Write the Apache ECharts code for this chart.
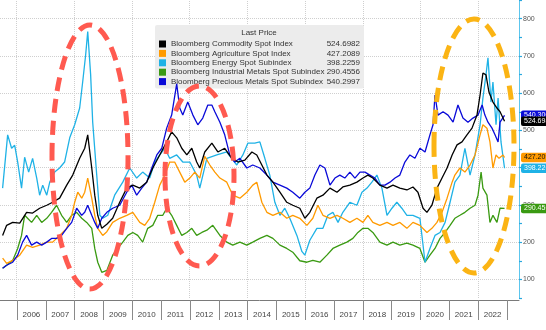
<!DOCTYPE html>
<html>
<head>
<meta charset="utf-8">
<script src="https://cdn.jsdelivr.net/npm/echarts@6/dist/echarts.min.js"></script>
<style>
  html, body { margin: 0; padding: 0; background: #ffffff; }
  #chart { width: 546px; height: 330px; }
</style>
</head>
<body>
<div id="chart"></div>
<script>
// Bloomberg spot indices, mid-2005 to late 2022
const years = ['2006','2007','2008','2009','2010','2011','2012','2013','2014','2015','2016','2017','2018','2019','2020','2021','2022'];
// vertical guide lines every second year
const gridYears = ['2006','2008','2010','2012','2014','2016','2018','2020','2022'];

const names = [
  'Bloomberg Commodity Spot Index',
  'Bloomberg Agriculture Spot Index',
  'Bloomberg Energy Spot Subindex',
  'Bloomberg Industrial Metals Spot Subindex',
  'Bloomberg Precious Metals Spot Subindex'
];

const commodity = [
['2005-07-06',218],['2005-08-26',245],['2005-11-11',253],['2006-02-08',251],['2006-05-06',280],['2006-07-21',278],['2006-10-18',291],['2007-01-16',299],['2007-04-01',307],['2007-06-28',318],['2007-09-26',353],['2007-12-11',380],['2008-03-08',425],['2008-05-11',452],['2008-06-18',488],['2008-08-08',399],['2008-09-15',326],['2008-10-23',272],['2008-12-13',237],['2009-02-15',248],['2009-04-30',264],['2009-07-28',307],['2009-10-25',345],['2010-01-10',353],['2010-04-08',345],['2010-07-05',361],['2010-09-20',399],['2010-12-17',434],['2011-03-15',469],['2011-05-17',496],['2011-07-20',480],['2011-09-22',452],['2011-11-25',434],['2012-01-27',452],['2012-03-29',415],['2012-05-07',399],['2012-07-09',442],['2012-10-07',466],['2012-12-22',442],['2013-03-19',452],['2013-06-17',425],['2013-09-02',415],['2013-11-29',420],['2014-02-26',442],['2014-04-29',434],['2014-07-02',407],['2014-09-04',380],['2014-11-19',361],['2015-02-16',334],['2015-05-14',307],['2015-07-29',299],['2015-10-26',291],['2015-12-29',264],['2016-03-01',280],['2016-05-29',318],['2016-08-14',326],['2016-11-11',345],['2017-02-08',334],['2017-04-23',348],['2017-07-21',353],['2017-10-18',361],['2018-01-03',372],['2018-03-06',380],['2018-05-08',372],['2018-08-05',353],['2018-11-03',345],['2019-01-18',353],['2019-04-15',345],['2019-07-13',340],['2019-09-28',348],['2019-11-30',334],['2020-02-03',291],['2020-03-23',280],['2020-05-25',299],['2020-07-28',345],['2020-09-30',372],['2020-12-03',399],['2021-02-05',434],['2021-04-08',461],['2021-06-10',469],['2021-08-12',488],['2021-10-15',506],['2021-12-17',541],['2022-01-25',595],['2022-03-02',654],['2022-04-10',649],['2022-05-17',603],['2022-07-07',576],['2022-08-27',560],['2022-10-05',550],['2022-12-01',524.6982]
];

const agriculture = [
['2005-07-06',157],['2005-08-26',143],['2005-11-11',151],['2006-02-08',165],['2006-05-06',192],['2006-07-21',186],['2006-10-18',192],['2007-01-16',200],['2007-04-01',200],['2007-06-28',218],['2007-09-26',237],['2007-11-28',272],['2008-01-05',307],['2008-02-13',334],['2008-04-03',318],['2008-05-11',334],['2008-06-18',372],['2008-08-08',318],['2008-09-15',272],['2008-10-23',237],['2008-12-25',218],['2009-02-15',228],['2009-04-30',253],['2009-07-28',264],['2009-10-25',272],['2010-01-10',280],['2010-04-08',253],['2010-06-10',245],['2010-08-12',264],['2010-10-15',307],['2010-12-17',353],['2011-02-20',380],['2011-04-22',415],['2011-06-24',415],['2011-08-27',388],['2011-10-30',361],['2012-01-02',372],['2012-03-05',388],['2012-05-07',372],['2012-07-09',430],['2012-09-12',407],['2012-11-14',388],['2013-01-17',372],['2013-04-14',361],['2013-06-29',326],['2013-09-27',318],['2013-12-24',334],['2014-03-09',353],['2014-04-29',361],['2014-07-02',307],['2014-09-04',280],['2014-11-19',272],['2015-02-16',280],['2015-05-14',264],['2015-07-29',272],['2015-10-26',264],['2016-01-24',245],['2016-04-08',264],['2016-06-11',299],['2016-08-14',272],['2016-11-11',264],['2017-02-08',272],['2017-04-23',264],['2017-07-21',253],['2017-10-18',264],['2018-01-03',253],['2018-03-06',272],['2018-05-08',253],['2018-08-05',245],['2018-11-03',253],['2019-01-18',245],['2019-04-15',253],['2019-07-13',237],['2019-09-28',253],['2019-12-25',245],['2020-03-23',226],['2020-05-25',237],['2020-07-28',253],['2020-09-30',280],['2020-12-03',318],['2021-02-05',361],['2021-03-12',380],['2021-05-15',399],['2021-07-17',388],['2021-09-20',407],['2021-11-22',434],['2022-01-25',488],['2022-03-02',515],['2022-04-22',506],['2022-05-30',469],['2022-07-07',399],['2022-08-15',434],['2022-09-22',425],['2022-11-12',434],['2022-12-01',427.2089]
];

const energy = [
['2005-07-06',345],['2005-09-08',488],['2005-10-28',452],['2005-12-06',460],['2006-01-13',415],['2006-03-03',345],['2006-04-11',428],['2006-06-01',388],['2006-07-21',425],['2006-09-11',372],['2006-10-18',326],['2006-11-26',353],['2007-01-16',326],['2007-02-23',361],['2007-04-26',388],['2007-06-28',399],['2007-08-30',415],['2007-11-03',480],['2008-01-05',515],['2008-03-08',560],['2008-04-15',630],['2008-05-23',703],['2008-06-18',765],['2008-07-25',649],['2008-08-20',522],['2008-10-10',380],['2008-11-18',272],['2008-12-25',264],['2009-02-27',272],['2009-05-25',326],['2009-09-05',361],['2009-12-02',399],['2010-02-28',372],['2010-05-15',388],['2010-08-12',372],['2010-10-15',415],['2010-12-17',434],['2011-02-20',452],['2011-04-22',425],['2011-07-20',434],['2011-10-05',415],['2012-01-02',415],['2012-03-29',380],['2012-05-07',345],['2012-08-05',425],['2012-12-09',434],['2013-04-14',442],['2013-08-19',407],['2013-11-04',434],['2014-01-07',466],['2014-04-04',466],['2014-06-07',469],['2014-08-09',425],['2014-10-11',380],['2014-12-14',307],['2015-02-16',272],['2015-04-19',291],['2015-06-21',264],['2015-09-19',218],['2015-11-21',175],['2015-12-29',165],['2016-03-01',205],['2016-05-29',237],['2016-08-14',237],['2016-10-16',272],['2016-12-18',280],['2017-02-21',253],['2017-04-23',280],['2017-07-21',307],['2017-10-18',299],['2017-12-21',334],['2018-02-23',345],['2018-04-26',361],['2018-06-28',380],['2018-08-31',345],['2018-11-03',272],['2019-01-05',291],['2019-03-08',307],['2019-05-10',291],['2019-07-13',272],['2019-09-28',272],['2019-12-25',264],['2020-02-28',146],['2020-04-30',183],['2020-07-03',218],['2020-09-05',226],['2020-11-08',253],['2021-01-10',307],['2021-03-12',361],['2021-05-15',380],['2021-07-17',452],['2021-09-20',380],['2021-11-22',434],['2022-01-25',515],['2022-03-02',587],['2022-04-10',649],['2022-05-05',695],['2022-06-12',576],['2022-07-07',630],['2022-08-15',515],['2022-09-10',587],['2022-10-17',469],['2022-12-01',398.2259]
];

const metals = [
['2005-07-06',130],['2005-08-26',138],['2005-11-11',151],['2006-01-13',183],['2006-03-03',218],['2006-04-11',272],['2006-05-18',264],['2006-07-08',253],['2006-09-11',272],['2006-11-13',253],['2007-01-16',264],['2007-03-18',280],['2007-05-21',299],['2007-07-23',272],['2007-09-26',253],['2007-11-28',272],['2008-01-30',280],['2008-04-03',264],['2008-06-05',253],['2008-08-08',237],['2008-09-15',183],['2008-10-23',146],['2008-12-13',119],['2009-02-15',124],['2009-04-30',165],['2009-07-03',183],['2009-09-05',200],['2009-11-08',218],['2010-01-10',226],['2010-03-13',218],['2010-05-15',200],['2010-07-18',237],['2010-09-20',245],['2010-11-22',272],['2011-01-25',272],['2011-03-15',291],['2011-05-17',272],['2011-07-20',245],['2011-09-22',218],['2011-11-25',226],['2012-01-27',237],['2012-03-29',218],['2012-06-02',226],['2012-08-05',232],['2012-10-19',245],['2013-01-17',218],['2013-04-14',200],['2013-06-29',192],['2013-09-27',200],['2013-12-24',192],['2014-03-09',200],['2014-06-07',210],['2014-09-04',218],['2014-11-19',210],['2015-02-16',192],['2015-05-14',183],['2015-07-29',173],['2015-10-26',150],['2016-01-24',146],['2016-04-08',151],['2016-07-06',146],['2016-10-03',165],['2016-12-18',183],['2017-03-16',192],['2017-06-13',200],['2017-08-28',210],['2017-10-31',226],['2018-01-03',237],['2018-03-06',237],['2018-05-08',226],['2018-08-05',200],['2018-11-03',192],['2019-01-18',200],['2019-04-15',192],['2019-07-13',197],['2019-09-28',192],['2019-12-25',183],['2020-02-28',146],['2020-04-30',165],['2020-07-03',183],['2020-09-05',210],['2020-11-08',226],['2021-01-10',245],['2021-03-12',264],['2021-05-15',272],['2021-07-17',280],['2021-09-20',291],['2021-11-22',299],['2021-12-30',326],['2022-02-07',388],['2022-03-02',345],['2022-04-22',326],['2022-05-30',253],['2022-07-07',272],['2022-08-27',253],['2022-10-05',291],['2022-12-01',290.4556]
];

const precious = [
['2005-07-06',130],['2005-08-26',138],['2005-11-11',146],['2006-01-13',165],['2006-03-16',200],['2006-05-06',218],['2006-07-08',192],['2006-09-11',200],['2006-11-13',192],['2007-01-16',200],['2007-03-18',210],['2007-05-21',210],['2007-07-23',218],['2007-09-26',237],['2007-11-28',253],['2008-01-30',291],['2008-04-03',272],['2008-05-11',280],['2008-06-18',299],['2008-08-08',272],['2008-09-15',253],['2008-10-23',237],['2008-12-13',264],['2009-02-15',280],['2009-04-30',291],['2009-07-28',299],['2009-10-25',334],['2009-12-28',353],['2010-02-28',326],['2010-05-03',345],['2010-07-05',361],['2010-09-07',399],['2010-11-10',434],['2011-01-12',452],['2011-03-15',506],['2011-05-17',541],['2011-07-20',625],['2011-08-27',560],['2011-10-05',541],['2011-12-07',576],['2012-02-10',541],['2012-04-12',515],['2012-06-14',533],['2012-08-17',568],['2012-10-07',568],['2012-11-14',550],['2013-01-17',522],['2013-03-19',488],['2013-05-22',434],['2013-07-24',415],['2013-09-27',425],['2013-12-24',399],['2014-03-09',407],['2014-06-07',399],['2014-09-04',380],['2014-11-19',361],['2015-02-16',353],['2015-05-14',345],['2015-07-29',334],['2015-10-26',318],['2015-12-29',334],['2016-03-01',345],['2016-05-04',380],['2016-07-06',407],['2016-09-08',399],['2016-11-11',353],['2017-01-13',372],['2017-03-16',380],['2017-05-18',372],['2017-07-21',388],['2017-09-23',372],['2017-11-26',388],['2018-01-28',388],['2018-04-01',380],['2018-06-03',372],['2018-08-05',353],['2018-10-08',353],['2018-12-11',361],['2019-02-13',372],['2019-04-15',380],['2019-06-18',415],['2019-08-20',434],['2019-10-23',425],['2019-12-25',452],['2020-02-28',442],['2020-04-30',488],['2020-06-08',515],['2020-07-03',595],['2020-08-10',541],['2020-10-13',550],['2020-12-15',541],['2021-02-17',522],['2021-04-20',568],['2021-06-22',533],['2021-08-25',522],['2021-10-27',533],['2021-12-30',541],['2022-02-20',568],['2022-03-27',541],['2022-05-05',522],['2022-06-25',506],['2022-08-02',488],['2022-09-10',469],['2022-10-05',522],['2022-12-01',540.2997]
];

const seriesData = [commodity, agriculture, energy, metals, precious];
const lineColors = ['#000000', '#ff9a00', '#1fb2e6', '#3a9a12', '#0a0ad8'];
const tagTextColors = ['#ffffff', '#111111', '#ffffff', '#ffffff', '#ffffff'];
const stackOrder = [9, 5, 4, 3, 7];

const FONT = 'Liberation Sans';
const lastValue = idx => seriesData[idx][seriesData[idx].length - 1][1];

const chart = echarts.init(document.getElementById('chart'), null, { renderer: 'canvas' });

const lineSeries = names.map((name, i) => ({
  name: name,
  type: 'line',
  xAxisIndex: 0,
  yAxisIndex: 0,
  data: seriesData[i],
  showSymbol: false,
  symbol: 'none',
  z: stackOrder[i],
  lineStyle: { color: lineColors[i], width: 1.3 },
  itemStyle: { color: lineColors[i] },
  emphasis: { disabled: true },
  markLine: {
    silent: true,
    symbol: 'none',
    z: stackOrder[i],
    lineStyle: { color: 'rgba(0,0,0,0)', width: 0 },
    data: [{ yAxis: lastValue(i) }],
    label: {
      show: true,
      position: 'end',
      distance: 2,
      formatter: () => lastValue(i).toFixed(3),
      fontFamily: FONT,
      fontSize: 7,
      color: tagTextColors[i],
      backgroundColor: lineColors[i],
      borderRadius: 2,
      padding: [1.5, 3, 1, 3]
    }
  }
}));

// vertical dotted guides drawn through the time axis
const guideSeries = {
  name: 'guides',
  type: 'line',
  xAxisIndex: 0,
  yAxisIndex: 0,
  data: [],
  z: 1,
  silent: true,
  markLine: {
    silent: true,
    symbol: 'none',
    z: 1,
    label: { show: false },
    lineStyle: { color: '#cfcfcf', type: 'dotted', width: 1 },
    data: gridYears.map(y => ({ xAxis: y + '-01-01' }))
  }
};

const option = {
  animation: false,
  backgroundColor: '#ffffff',
  textStyle: { fontFamily: FONT },
  grid: [
    { left: 0, right: 27, top: 0, bottom: 32, outerBoundsMode: 'none', containLabel: false },
    { left: 17, right: 39, top: 0, bottom: 30, outerBoundsMode: 'none', containLabel: false }
  ],
  xAxis: [
    {
      type: 'time',
      gridIndex: 0,
      min: '2005-06-03',
      max: '2023-06-02',
      offset: 2,
      axisLine: { show: true, lineStyle: { color: '#7a7a7a', width: 1 } },
      axisTick: { show: false },
      axisLabel: { show: false },
      splitLine: { show: false }
    },
    {
      type: 'category',
      gridIndex: 1,
      data: years,
      boundaryGap: true,
      axisLine: { show: false },
      axisTick: { show: true, interval: 0, length: 20, lineStyle: { color: '#8a8a8a', width: 1 } },
      axisLabel: { interval: 0, fontFamily: FONT, fontSize: 8, color: '#444', margin: 11 },
      splitLine: { show: false }
    }
  ],
  yAxis: [
    {
      type: 'value',
      gridIndex: 0,
      position: 'right',
      min: 50,
      max: 850,
      interval: 50,
      axisLine: { show: true, lineStyle: { color: '#5cc6ee', width: 1 } },
      axisTick: { show: true, inside: false, length: 3, lineStyle: { color: '#2aa8de', width: 1.2 } },
      axisLabel: {
        fontFamily: FONT, fontSize: 7, color: '#555', margin: 4,
        formatter: v => (v % 100 === 0 ? String(v) : '')
      },
      splitLine: {
        show: true,
        lineStyle: { color: ['rgba(0,0,0,0)', '#cfcfcf'], type: 'dotted', width: 1 }
      }
    },
    {
      type: 'value',
      gridIndex: 1,
      show: false,
      min: 0,
      max: 1
    }
  ],
  legend: {
    data: names,
    orient: 'vertical',
    left: 155,
    top: 25,
    padding: [15, 4, 3, 4],
    itemGap: 1.4,
    itemWidth: 7,
    itemHeight: 7,
    icon: 'rect',
    backgroundColor: '#ececec',
    borderRadius: 2,
    selectedMode: false,
    formatter: name => {
      const i = names.indexOf(name);
      return '{n|' + name + '}{v|' + lastValue(i).toFixed(4) + '}';
    },
    textStyle: {
      fontFamily: FONT,
      fontSize: 8,
      lineHeight: 8,
      color: '#333',
      rich: {
        n: { fontFamily: FONT, fontSize: 8, color: '#333', width: 155, height: 8, lineHeight: 8 },
        v: { fontFamily: FONT, fontSize: 8, color: '#333', width: 34, height: 8, align: 'right', lineHeight: 8 }
      }
    }
  },
  graphic: [
    {
      type: 'text',
      z: 100,
      style: { text: 'Last Price', x: 259, y: 33, align: 'center', verticalAlign: 'middle',
               font: '8px "Liberation Sans"', fill: '#333' }
    },
    {
      type: 'ellipse', z: 90, silent: true,
      shape: { cx: 90, cy: 157, rx: 38, ry: 132 },
      style: { fill: 'none', stroke: '#ff5a50', lineWidth: 5, lineDash: [14, 8] }
    },
    {
      type: 'ellipse', z: 90, silent: true,
      shape: { cx: 199.5, cy: 176, rx: 34.5, ry: 90 },
      style: { fill: 'none', stroke: '#ff5a50', lineWidth: 5, lineDash: [14, 8] }
    },
    {
      type: 'ellipse', z: 90, silent: true,
      shape: { cx: 474, cy: 146, rx: 40, ry: 127 },
      style: { fill: 'none', stroke: '#fbb414', lineWidth: 5, lineDash: [14, 8] }
    }
  ],
  series: lineSeries.concat([guideSeries])
};

chart.setOption(option);
</script>
</body>
</html>
